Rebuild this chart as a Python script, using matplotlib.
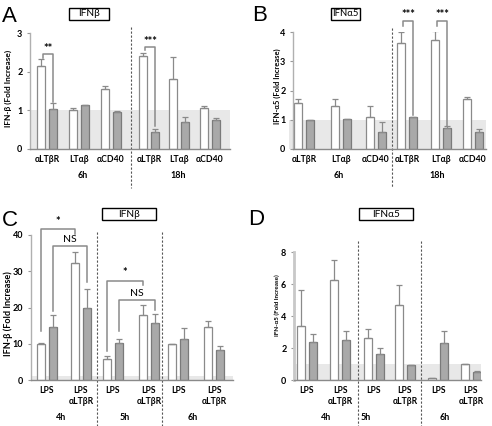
import numpy as np
import matplotlib
matplotlib.use("Agg")
import matplotlib.pyplot as plt
from matplotlib.patches import Rectangle

# ---------------- data ----------------
# Panel A: IFN-beta, treatments at 6h and 18h
a_labels = ["αLTβR", "LTαβ", "αCD40", "αLTβR", "LTαβ", "αCD40"]
a_groups = ["6h", "18h"]
a_white = [2.15, 1.00, 1.55, 2.40, 1.82, 1.07]
a_white_err = [0.17, 0.07, 0.08, 0.08, 0.57, 0.05]
a_gray = [1.03, 1.13, 0.96, 0.43, 0.69, 0.74]
a_gray_err = [0.17, 0.02, 0.03, 0.09, 0.13, 0.05]

# Panel B: IFN-alpha5
b_labels = ["αLTβR", "LTαβ", "αCD40", "αLTβR", "LTαβ", "αCD40"]
b_groups = ["6h", "18h"]
b_white = [1.57, 1.48, 1.08, 3.63, 3.72, 1.72]
b_white_err = [0.13, 0.22, 0.38, 0.38, 0.33, 0.06]
b_gray = [0.98, 1.02, 0.58, 1.08, 0.72, 0.58]
b_gray_err = [0.01, 0.02, 0.35, 0.03, 0.06, 0.10]

# Panel C: IFN-beta, LPS time course
c_labels = ["LPS", "LPS\nαLTβR", "LPS", "LPS\nαLTβR", "LPS", "LPS\nαLTβR"]
c_groups = ["4h", "5h", "6h"]
c_white = [9.8, 32.2, 5.9, 17.8, 9.8, 14.6]
c_white_err = [0.5, 3.2, 0.8, 2.9, 0.1, 1.7]
c_gray = [14.5, 20.0, 10.3, 15.6, 11.2, 8.3]
c_gray_err = [3.4, 5.1, 1.0, 2.5, 3.2, 1.2]

# Panel D: IFN-alpha5, LPS time course
d_labels = ["LPS", "LPS\nαLTβR", "LPS", "LPS\nαLTβR", "LPS", "LPS\nαLTβR"]
d_groups = ["4h", "5h", "6h"]
d_white = [3.4, 6.25, 2.6, 4.7, 0.10, 0.97]
d_white_err = [2.2, 1.25, 0.6, 1.25, 0.02, 0.02]
d_gray = [2.4, 2.5, 1.6, 0.92, 2.32, 0.52]
d_gray_err = [0.5, 0.55, 0.42, 0.03, 0.73, 0.06]

# ---------------- layout ----------------
W, H = 492, 426
fig = plt.figure(figsize=(W / 100, H / 100), dpi=100)
FONT = ["Lato", "DejaVu Sans"]
EDGE = "#8a8a8a"
GRAYBAR = "#a9a9a9"


def fy(ypx):
    return 1 - ypx / H


def fx(xpx):
    return xpx / W


def title_box(x0, x1, y0, y1, text, fs=7.3):
    fig.patches.append(Rectangle((fx(x0), fy(y1)), (x1 - x0) / W,
                                 (y1 - y0) / H, transform=fig.transFigure,
                                 fc="white", ec="black", lw=1.0))
    fig.text(fx((x0 + x1) / 2), fy((y0 + y1) / 2), text, ha="center",
             va="center", fontsize=fs, family=FONT)


def make_panel(left, right, y0, ytop, ymax, yticks, centers, white, werr,
               gray, gerr, labels, vlines, groups, group_x, ylabel,
               ylabel_x, ylabel_y, ylabel_fs, letter, letter_xy,
               vline_top, vline_bot, band_left=None, tick_top=155,
               group_y=176, off=6, w=8.5):
    ax = fig.add_axes([fx(left), fy(y0), (right - left) / W, (y0 - ytop) / H])
    ax.set_xlim(0, right - left)
    ax.set_ylim(0, ymax)
    bl = 0 if band_left is None else band_left - left
    ax.fill_between([bl, right - left], 0, 1, color="#e8e8e8", zorder=0,
                    lw=0, clip_on=False)
    c = np.array(centers, dtype=float)
    n = len(white)
    ax.bar(c - off, white, width=w, color="white", edgecolor=EDGE, lw=0.9,
           yerr=[np.zeros(n), werr], zorder=2,
           error_kw=dict(ecolor=EDGE, elinewidth=0.9, capsize=2, capthick=0.9))
    ax.bar(c + off, gray, width=w, color=GRAYBAR, edgecolor="#7a7a7a", lw=0.9,
           yerr=[np.zeros(n), gerr], zorder=2,
           error_kw=dict(ecolor=EDGE, elinewidth=0.9, capsize=2, capthick=0.9))
    for s in ["top", "right"]:
        ax.spines[s].set_visible(False)
    ax.spines["left"].set_bounds(0, ymax)
    ax.spines["left"].set_color("#b0b0b0")
    ax.spines["left"].set_linewidth(1.0)
    ax.spines["bottom"].set_color("#8a8a8a")
    ax.spines["bottom"].set_linewidth(1.0)
    ax.set_yticks(yticks)
    ax.set_yticklabels([str(t) for t in yticks], fontsize=6.5,
                       fontweight="bold", family=FONT)
    ax.tick_params(axis="y", length=2.5, width=0.8, color="#999999", pad=3)
    ax.set_xticks([])
    ax.patch.set_alpha(0)
    hpx = y0 - ytop
    trans = ax.get_xaxis_transform()
    for xc, lab in zip(c, labels):
        ax.text(xc, (y0 - tick_top) / hpx, lab, transform=trans, ha="center",
                va="top", fontsize=6.2, fontweight="bold", family=FONT,
                linespacing=1.3, clip_on=False)
    for gx, g in zip(group_x, groups):
        ax.text(gx, (y0 - group_y) / hpx, g, transform=trans, ha="center",
                va="center", fontsize=6.5, fontweight="bold", family=FONT,
                clip_on=False)
    for xv in vlines:
        ax.plot([xv, xv], [(y0 - vline_top) / hpx, (y0 - vline_bot) / hpx],
                transform=trans, ls=(0, (2, 1.6)), color="#555555", lw=0.8,
                clip_on=False)
    fig.text(fx(ylabel_x), fy(ylabel_y), ylabel, rotation=90,
             ha="center", va="center", fontsize=ylabel_fs, fontweight="bold",
             family=FONT)
    fig.text(fx(letter_xy[0]), fy(letter_xy[1]), letter, ha="left",
             va="baseline", fontsize=16, family=["Liberation Sans"])
    return ax, c


def bracket(ax, x1, x2, ytop, y1, y2, text, ty, fs=8, bold=True):
    kw = dict(color="#8a8a8a", lw=1.1, clip_on=False, zorder=3)
    ax.plot([x1, x1, x2, x2], [y1, ytop, ytop, y2], **kw)
    ax.text((x1 + x2) / 2, ty, text, ha="center", va="center", fontsize=fs,
            family=FONT, fontweight="bold" if bold else "normal",
            clip_on=False)


# Panel A
axA, cA = make_panel(30, 230, 149, 33, 3, [0, 1, 2, 3],
                     [17, 49, 81, 119, 149, 180], a_white, a_white_err,
                     a_gray, a_gray_err, a_labels, [101], a_groups, [53, 148],
                     "IFN-β (Fold Increase)", 8, 88, 6.0, "A", (2, 22),
                     27, 188)
title_box(69, 109, 8, 20, "IFNβ")
bracket(axA, cA[0] - 4, cA[0] + 6, 2.46, 2.36, 1.22, "**", 2.60)
bracket(axA, cA[3] - 4, cA[3] + 6, 2.64, 2.55, 0.60, "***", 2.78)

# Panel B
axB, cB = make_panel(293, 486, 149, 32, 4, [0, 1, 2, 3, 4],
                     [11, 48, 83, 114, 148, 180], b_white, b_white_err,
                     b_gray, b_gray_err, b_labels, [99], b_groups, [46, 144],
                     "IFN-α5 (Fold Increase)", 277, 86, 5.5, "B", (252, 21),
                     28, 188, band_left=289)
title_box(331, 360, 8, 20, "IFNα5", fs=6.8)
bracket(axB, cB[3] - 4, cB[3] + 6, 4.38, 4.20, 1.15, "***", 4.60)
bracket(axB, cB[4] - 4, cB[4] + 6, 4.38, 4.20, 0.80, "***", 4.60)

# Panel C
axC, cC = make_panel(31, 233, 380, 235, 40, [0, 10, 20, 30, 40],
                     [16, 50, 82, 118, 147, 183], c_white, c_white_err,
                     c_gray, c_gray_err, c_labels, [66, 131], c_groups,
                     [30, 94, 162], "IFN-β (Fold Increase)", 8, 314, 6.6,
                     "C", (2, 226), 232, 426, tick_top=386, group_y=417)
title_box(102, 156, 208, 220, "IFNβ")
bracket(axC, cC[0] - 6, cC[1] - 6, 41.6, 13.5, 40.2, "*", 43.8)
bracket(axC, cC[0] + 6, cC[1] + 6, 37.0, 19.0, 27.0, "NS", 38.8, fs=7.5,
        bold=False)
bracket(axC, cC[2] - 6, cC[3] - 6, 27.3, 8.0, 26.2, "*", 29.6)
bracket(axC, cC[2] + 6, cC[3] + 6, 22.0, 13.5, 19.3, "NS", 23.8, fs=7.5,
        bold=False)

# Panel D
axD, cD = make_panel(294, 481, 380, 252, 8, [0, 2, 4, 6, 8],
                     [13, 46, 79.5, 111, 144.5, 177], d_white, d_white_err,
                     d_gray, d_gray_err, d_labels, [64, 127], d_groups,
                     [32, 72, 151], "IFN-α5 (Fold Increase)", 277, 305, 4.5,
                     "D", (248, 225), 241, 426, tick_top=386, group_y=417,
                     w=8)
title_box(359, 413, 208, 220, "IFNα5")
axD.spines["left"].set_linewidth(2.0)
axD.spines["left"].set_color("#c8c8c8")

fig.savefig("out.png", dpi=100)
